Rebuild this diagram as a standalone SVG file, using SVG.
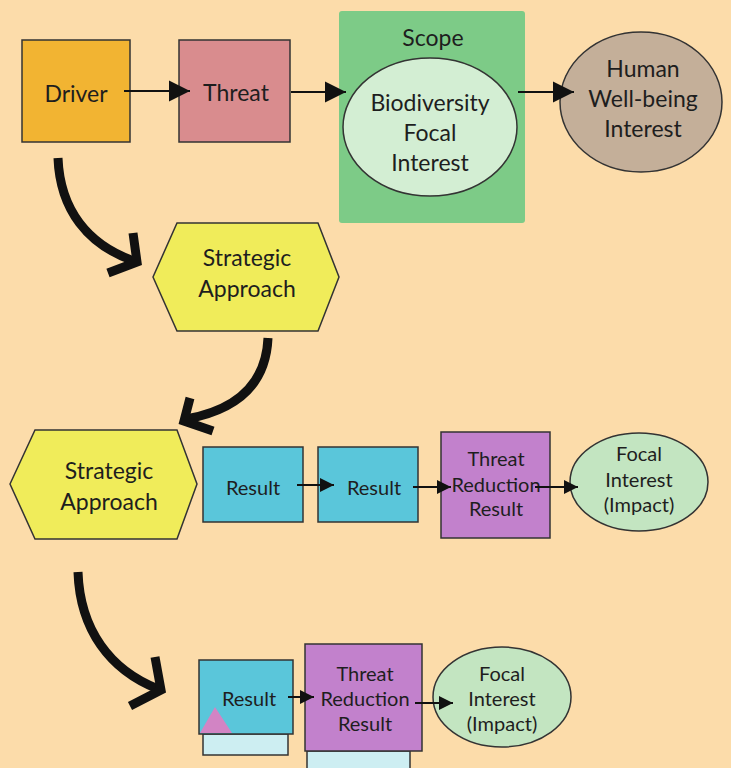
<svg xmlns="http://www.w3.org/2000/svg" width="731" height="768" viewBox="0 0 731 768">
  <defs>
    <marker id="tipL" viewBox="0 0 10 10" refX="10" refY="5" markerWidth="10.5" markerHeight="11" markerUnits="strokeWidth" orient="auto">
      <path d="M0,0 L10,5 L0,10 Z" fill="#111"/>
    </marker>
    <marker id="tipS" viewBox="0 0 10 10" refX="10" refY="5" markerWidth="7.5" markerHeight="7" markerUnits="strokeWidth" orient="auto">
      <path d="M0,0 L10,5 L0,10 Z" fill="#111"/>
    </marker>
  </defs>
  <style>
    text { font-family: Lato, "Open Sans", "Liberation Sans", sans-serif; fill: #1e1e1e; text-anchor: middle; dominant-baseline: central; }
    .big { font-size: 23px; }
    .mid { font-size: 20px; }
    .box { stroke: #333; stroke-width: 1.5; }
    .link { stroke: #111; stroke-width: 2; fill: none; }
    .bend { stroke: #111; stroke-width: 9; fill: none; stroke-linecap: butt; }
    .chev { stroke: #111; stroke-width: 9; fill: none; stroke-linejoin: miter; stroke-miterlimit: 10; }
  </style>

  <rect width="731" height="768" fill="#fcdcaa"/>

  <!-- top row -->
  <g id="driver">
    <rect class="box" x="22" y="40" width="108" height="102" fill="#f2b432"/>
    <text class="big" x="76" y="93">Driver</text>
  </g>
  <g id="threat">
    <rect class="box" x="179" y="40" width="111" height="102" fill="#d98c8e"/>
    <text class="big" x="236" y="92">Threat</text>
  </g>
  <g id="scope">
    <rect x="339" y="11" width="186" height="212" rx="3" fill="#7dcb87"/>
    <text class="big" x="433" y="37">Scope</text>
  </g>
  <g id="biodiversity">
    <ellipse class="box" cx="430" cy="127" rx="87" ry="69" fill="#d3eed3"/>
    <text class="big" x="430" y="102">Biodiversity</text>
    <text class="big" x="430" y="132">Focal</text>
    <text class="big" x="430" y="162">Interest</text>
  </g>
  <g id="human">
    <ellipse class="box" cx="641" cy="102" rx="81" ry="70" fill="#c4af99"/>
    <text class="big" x="643" y="68">Human</text>
    <text class="big" x="643" y="98">Well-being</text>
    <text class="big" x="643" y="128">Interest</text>
  </g>

  <!-- strategic approach 1 -->
  <g id="strategy1">
    <polygon class="box" points="153,277 177,223 318,223 339,277 318,331 177,331" fill="#f0ec5a"/>
    <text class="big" x="247" y="257">Strategic</text>
    <text class="big" x="247" y="288">Approach</text>
  </g>

  <!-- strategic approach 2 and its chain -->
  <g id="strategy2">
    <polygon class="box" points="10,484 35,430 177,430 197,484 177,539 35,539" fill="#f0ec5a"/>
    <text class="big" x="109" y="470">Strategic</text>
    <text class="big" x="109" y="501">Approach</text>
  </g>
  <g id="result1">
    <rect class="box" x="203" y="447" width="100" height="75" fill="#5ac6da"/>
    <text class="mid" x="253" y="487">Result</text>
  </g>
  <g id="result2">
    <rect class="box" x="318" y="447" width="100" height="75" fill="#5ac6da"/>
    <text class="mid" x="374" y="487">Result</text>
  </g>
  <g id="reduction1">
    <rect class="box" x="441" y="432" width="109" height="106" fill="#c281cc"/>
    <text class="mid" x="496" y="458">Threat</text>
    <text class="mid" x="496" y="484">Reduction</text>
    <text class="mid" x="496" y="508">Result</text>
  </g>
  <g id="impact1">
    <ellipse class="box" cx="639" cy="482" rx="69" ry="49" fill="#c3e5c1"/>
    <text class="mid" x="639" y="453">Focal</text>
    <text class="mid" x="639" y="479">Interest</text>
    <text class="mid" x="639" y="504">(Impact)</text>
  </g>

  <!-- bottom chain -->
  <g id="result3">
    <rect class="box" x="203" y="734" width="85" height="21" fill="#cdeef2"/>
    <rect class="box" x="199" y="660" width="94" height="74" fill="#5ac6da"/>
    <polygon points="200,733 215,707 232,733" fill="#d284c4"/>
    <text class="mid" x="249" y="698">Result</text>
  </g>
  <g id="reduction2">
    <rect class="box" x="307" y="751" width="103" height="20" fill="#cdeef2"/>
    <rect class="box" x="305" y="644" width="117" height="107" fill="#c281cc"/>
    <text class="mid" x="365" y="673">Threat</text>
    <text class="mid" x="365" y="698">Reduction</text>
    <text class="mid" x="365" y="723">Result</text>
  </g>
  <g id="impact2">
    <ellipse class="box" cx="502" cy="697" rx="69" ry="50" fill="#c3e5c1"/>
    <text class="mid" x="502" y="673">Focal</text>
    <text class="mid" x="502" y="698">Interest</text>
    <text class="mid" x="502" y="723">(Impact)</text>
  </g>

  <!-- connectors -->
  <g id="connectors">
    <line class="link" x1="124" y1="91" x2="190" y2="91" marker-end="url(#tipL)"/>
    <line class="link" x1="291" y1="92" x2="346" y2="92" marker-end="url(#tipL)"/>
    <line class="link" x1="518" y1="92" x2="574" y2="92" marker-end="url(#tipL)"/>

    <line class="link" x1="297" y1="485" x2="334" y2="485" marker-end="url(#tipS)"/>
    <line class="link" x1="413" y1="487" x2="451" y2="487" marker-end="url(#tipS)"/>
    <line class="link" x1="535" y1="487" x2="578" y2="487" marker-end="url(#tipS)"/>

    <line class="link" x1="288" y1="697" x2="314" y2="697" marker-end="url(#tipS)"/>
    <line class="link" x1="415" y1="703" x2="453" y2="703" marker-end="url(#tipS)"/>

    <path class="bend" d="M58,158 C60,210 88,245 134,261"/>
    <path class="chev" d="M133,233 L137,262 L108,273"/>

    <path class="bend" d="M268,338 C266,385 236,410 186,419"/>
    <path class="chev" d="M190,398 L184,421 L213,431"/>

    <path class="bend" d="M78,572 C80,630 110,670 158,689"/>
    <path class="chev" d="M155,657 L161,690 L130,706"/>
  </g>
</svg>
